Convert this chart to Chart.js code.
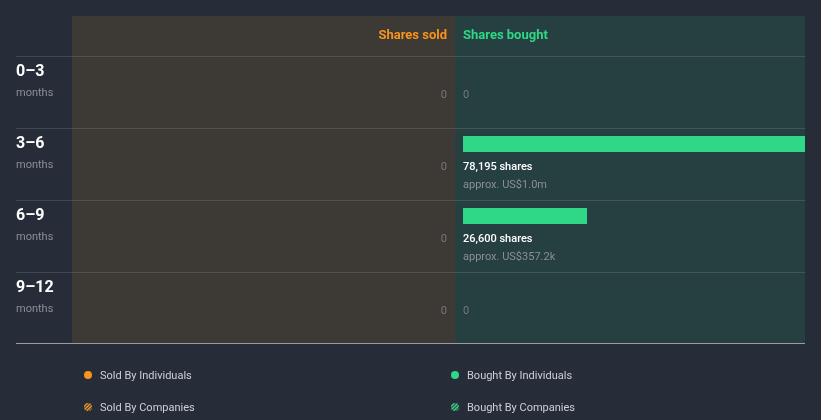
<!DOCTYPE html>
<html>
<head>
<meta charset="utf-8">
<script src="https://cdn.jsdelivr.net/npm/chart.js@4"></script>
<style>
  html, body { margin: 0; padding: 0; background: #262c38; }
  #wrap { width: 821px; height: 420px; position: relative; }
</style>
</head>
<body>
<div id="wrap"><canvas id="c"></canvas></div>
<script>
// ---- data ----
const periods = ['0–3', '3–6', '6–9', '9–12'];
const periodUnit = 'months';
const soldByIndividualsShares = [0, 0, 0, 0];
const soldByCompaniesShares = [0, 0, 0, 0];
const boughtByIndividualsShares = [0, 78195, 26600, 0];
const boughtByIndividualsValue = [0, 985000, 357200, 0];
const boughtByCompaniesValue = [0, 0, 0, 0];
const legendLabels = ['Sold By Individuals', 'Sold By Companies', 'Bought By Individuals', 'Bought By Companies'];

const C = {
  bg: '#262c38', sold: '#3d3935', bought: '#263f40', grid: 'rgba(255,255,255,0.12)',
  axis: '#9a9c9e', orange: '#f7941d', green: '#2ed886', white: '#ffffff',
  muted: '#8b8f96', zero: '#74777a', legend: '#cdd0d5'
};
const FONT = 'Roboto, "Noto Sans", sans-serif';

function fmtUSD(v) {
  if (v >= 1e6 * 0.95) return 'approx. US$' + (v / 1e6).toFixed(1) + 'm';
  return 'approx. US$' + (v / 1e3).toFixed(1) + 'k';
}

const panelPlugin = {
  id: 'panels',
  beforeDraw(chart) {
    const ctx = chart.ctx, ca = chart.chartArea, y = chart.scales.y;
    ctx.save();
    ctx.fillStyle = C.bg; ctx.fillRect(0, 0, chart.width, chart.height);
    const top = 16, bottom = ca.bottom;
    ctx.fillStyle = C.sold; ctx.fillRect(72, top, 455 - 72, bottom - top);
    ctx.fillStyle = C.bought; ctx.fillRect(455, top, ca.right - 455, bottom - top);
    // row separators
    ctx.fillStyle = C.grid;
    const half = (y.getPixelForValue(1) - y.getPixelForValue(0)) / 2;
    periods.forEach((p, i) => {
      const yc = y.getPixelForValue(i);
      ctx.fillRect(16, Math.round(yc - half), ca.right - 16, 1);
    });
    ctx.fillStyle = C.axis;
    ctx.fillRect(16, Math.round(ca.bottom) - 1, ca.right - 16, 1);
    ctx.restore();
  },
  afterDraw(chart) {
    const ctx = chart.ctx, y = chart.scales.y;
    const half = (y.getPixelForValue(1) - y.getPixelForValue(0)) / 2;
    ctx.save();
    ctx.textBaseline = 'middle';
    // headers
    ctx.font = 'bold 13px ' + FONT;
    ctx.fillStyle = C.orange; ctx.textAlign = 'right';
    ctx.fillText('Shares sold', 447, 36);
    ctx.fillStyle = C.green; ctx.textAlign = 'left';
    ctx.fillText('Shares bought', 463, 36);
    periods.forEach((p, i) => {
      const yc = y.getPixelForValue(i);
      const rowTop = yc - half;
      // row labels
      ctx.textAlign = 'left';
      ctx.font = 'bold 16px ' + FONT; ctx.fillStyle = C.white;
      ctx.fillText(p, 16, rowTop + 16);
      ctx.font = '11px ' + FONT; ctx.fillStyle = C.muted;
      ctx.fillText(periodUnit, 16, rowTop + 37);
      // sold values
      ctx.font = '11px ' + FONT; ctx.fillStyle = C.zero; ctx.textAlign = 'right';
      ctx.fillText(String(soldByIndividualsShares[i] + soldByCompaniesShares[i]), 447, yc + 3);
      // bought values
      ctx.textAlign = 'left';
      if (boughtByIndividualsShares[i] > 0) {
        ctx.font = '500 11px ' + FONT; ctx.fillStyle = C.white;
        ctx.fillText(boughtByIndividualsShares[i].toLocaleString('en-US') + ' shares', 463, rowTop + 39);
        ctx.font = '11px ' + FONT; ctx.fillStyle = C.muted;
        ctx.fillText(fmtUSD(boughtByIndividualsValue[i]), 463, rowTop + 57);
      } else {
        ctx.font = '11px ' + FONT; ctx.fillStyle = C.zero;
        ctx.fillText('0', 463, yc + 3);
      }
    });
    // legend
    const items = [
      { x: 88, y: 375, color: C.orange, hatch: false, label: legendLabels[0] },
      { x: 88, y: 407, color: C.orange, hatch: true, label: legendLabels[1] },
      { x: 455, y: 375, color: C.green, hatch: false, label: legendLabels[2] },
      { x: 455, y: 407, color: C.green, hatch: true, label: legendLabels[3] }
    ];
    items.forEach(it => {
      ctx.save();
      ctx.beginPath(); ctx.arc(it.x, it.y, 4, 0, Math.PI * 2);
      if (!it.hatch) { ctx.fillStyle = it.color; ctx.fill(); }
      else {
        ctx.fillStyle = '#3a3f45'; ctx.fill(); ctx.clip();
        ctx.strokeStyle = it.color; ctx.lineWidth = 1.4;
        for (let k = -8; k <= 8; k += 3.5) {
          ctx.beginPath(); ctx.moveTo(it.x + k - 5, it.y + 5); ctx.lineTo(it.x + k + 5, it.y - 5); ctx.stroke();
        }
      }
      ctx.restore();
      ctx.font = '11px ' + FONT; ctx.fillStyle = C.legend; ctx.textAlign = 'left';
      ctx.fillText(it.label, it.x + 12, it.y + 1);
    });
    ctx.restore();
  }
};

new Chart(document.getElementById('c'), {
  type: 'bar',
  data: {
    labels: periods,
    datasets: [
      { label: legendLabels[2], data: boughtByIndividualsValue, backgroundColor: C.green, borderWidth: 0 },
      { label: legendLabels[3], data: boughtByCompaniesValue, backgroundColor: C.green, borderWidth: 0 }
    ]
  },
  options: {
    indexAxis: 'y',
    responsive: true,
    maintainAspectRatio: false,
    animation: false,
    layout: { padding: { left: 463, right: 16, top: 56, bottom: 76 } },
    datasets: { bar: { categoryPercentage: 1.1111, barPercentage: 0.4, maxBarThickness: 16 } },
    scales: {
      x: { display: false, min: 0, max: Math.max(...boughtByIndividualsValue) },
      y: { display: false }
    },
    plugins: { legend: { display: false }, tooltip: { enabled: false } }
  },
  plugins: [panelPlugin]
});
</script>
</body>
</html>
